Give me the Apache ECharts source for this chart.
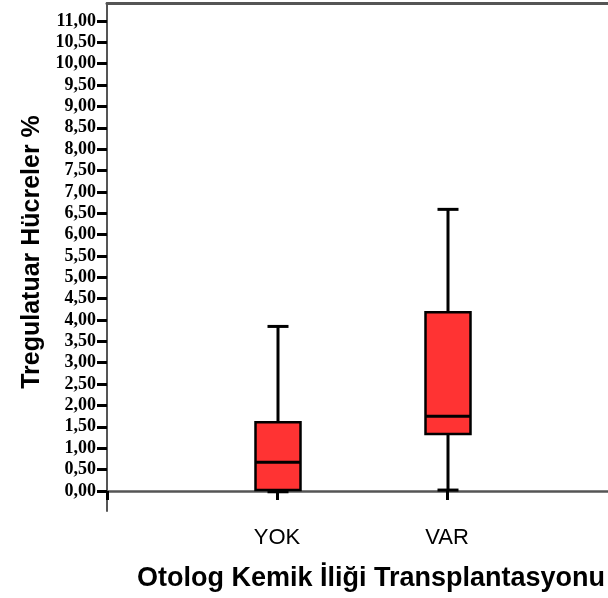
<!DOCTYPE html>
<html><head><meta charset="utf-8">
<script src="https://cdn.jsdelivr.net/npm/echarts@6/dist/echarts.min.js"></script>
<style>html,body{margin:0;padding:0;background:#fff}#c{width:608px;height:598px}</style>
</head><body><div id="c"></div>
<script>
// ---- data ----
const categories = ['YOK', 'VAR'];
// box values: [min, Q1, median, Q3, max]
const yokBox = [-0.02, 0.02, 0.67, 1.61, 3.85];
const varBox = [0.02, 1.33, 1.75, 4.18, 6.59];
const yTickValues = [0, 0.5, 1, 1.5, 2, 2.5, 3, 3.5, 4, 4.5, 5, 5.5, 6, 6.5, 7, 7.5, 8, 8.5, 9, 9.5, 10, 10.5, 11];
const yAxisTitle = 'Tregulatuar Hücreler %';
const xAxisTitle = 'Otolog Kemik İliği Transplantasyonu';

// ---- build ----
const boxes = [yokBox, varBox];
const axisCats = [''].concat(categories, ['']);
const seriesData = categories.map((c, i) => [i + 1].concat(boxes[i]));

const chart = echarts.init(document.getElementById('c'), null, {renderer: 'canvas'});
const axisGray = '#555555';
chart.setOption({
  animation: false,
  backgroundColor: '#ffffff',
  grid: {left: 107, width: 510, top: 3, height: 508, containLabel: false, outerBoundsMode: 'none'},
  xAxis: [{
    type: 'category',
    data: axisCats,
    boundaryGap: false,
    axisLine: {lineStyle: {color: axisGray, width: 2.5}},
    axisTick: {show: true, interval: 0, length: 9, lineStyle: {color: '#000', width: 3}},
    axisLabel: {interval: 0, margin: 16, color: '#000', fontSize: 22, fontFamily: 'Liberation Sans, Arial, sans-serif'},
    splitLine: {show: false},
    name: xAxisTitle,
    nameLocation: 'middle',
    nameGap: 54,
    nameTextStyle: {color: '#000', fontSize: 27, fontWeight: 'bold', fontFamily: 'Liberation Sans, Arial, sans-serif', padding: [0, 0, 0, 18]}
  }, {
    type: 'category',
    data: axisCats,
    boundaryGap: false,
    position: 'top',
    axisLine: {show: true, lineStyle: {color: axisGray, width: 3}},
    axisTick: {show: false},
    axisLabel: {show: false},
    splitLine: {show: false}
  }],
  yAxis: {
    type: 'value',
    min: -0.47,
    max: 11.42,
    axisLine: {show: true, lineStyle: {color: axisGray, width: 2}},
    axisTick: {show: true, length: 10, customValues: yTickValues, lineStyle: {color: '#000', width: 3}},
    axisLabel: {
      customValues: yTickValues,
      margin: 11,
      color: '#000',
      fontSize: 18,
      fontWeight: 'bold',
      fontFamily: 'Liberation Serif, Times New Roman, serif',
      formatter: v => v.toFixed(2).replace('.', ',')
    },
    splitLine: {show: false},
    name: yAxisTitle,
    nameLocation: 'middle',
    nameRotate: 90,
    nameGap: 62,
    nameTextStyle: {color: '#000', fontSize: 25, fontWeight: 'bold', fontFamily: 'Liberation Sans, Arial, sans-serif', padding: [0, 0, 0, 10]}
  },
  series: [{
    type: 'custom',
    xAxisIndex: 0,
    encode: {x: 0, y: [1, 2, 3, 4, 5]},
    data: seriesData,
    renderItem: function (params, api) {
      const x = api.value(0);
      const pMin = api.coord([x, api.value(1)]);
      const pQ1 = api.coord([x, api.value(2)]);
      const pMed = api.coord([x, api.value(3)]);
      const pQ3 = api.coord([x, api.value(4)]);
      const pMax = api.coord([x, api.value(5)]);
      const cx = pMin[0] + 1;
      const bw = 45, cw = 21;
      const lineStyle = {stroke: '#000', lineWidth: 3};
      return {
        type: 'group',
        children: [
          {type: 'line', shape: {x1: cx, y1: pMax[1], x2: cx, y2: pMin[1]}, style: lineStyle},
          {type: 'line', shape: {x1: cx - cw / 2, y1: pMax[1], x2: cx + cw / 2, y2: pMax[1]}, style: lineStyle},
          {type: 'line', shape: {x1: cx - cw / 2, y1: pMin[1], x2: cx + cw / 2, y2: pMin[1]}, style: lineStyle},
          {type: 'rect', shape: {x: cx - bw / 2, y: pQ3[1], width: bw, height: pQ1[1] - pQ3[1]},
           style: {fill: '#ff3333', stroke: '#000', lineWidth: 2.5}},
          {type: 'line', shape: {x1: cx - bw / 2, y1: pMed[1], x2: cx + bw / 2, y2: pMed[1]}, style: lineStyle}
        ]
      };
    }
  }]
});
</script>
</body></html>
